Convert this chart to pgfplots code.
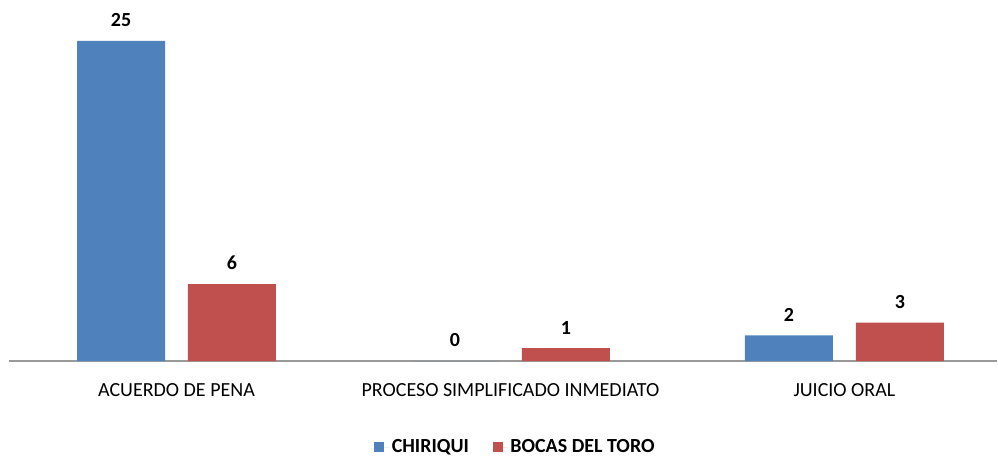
\documentclass[border=0pt]{standalone}
\usepackage{fontspec}
\setmainfont{Carlito}
\usepackage{pgfplots}
\pgfplotsset{compat=1.18}
\definecolor{chiriqui}{HTML}{4F81BD}
\definecolor{bocas}{HTML}{C0504D}

\begin{document}
\begin{tikzpicture}
\begin{axis}[
  at={(0,0)}, anchor=south west,
  scale only axis,
  width=741pt, height=267pt,
  xmin=-0.5015, xmax=2.457, ymin=0, ymax=27.8,
  axis x line*=bottom, axis y line=none,
  x axis line style={draw=gray!80, line width=1pt},
  xtick=data,
  xticklabels={ACUERDO DE PENA, PROCESO SIMPLIFICADO INMEDIATO, JUICIO ORAL},
  xticklabel style={font=\fontsize{15}{17}\selectfont, yshift=-13pt},
  major tick length=0pt,
  ybar, bar width=66pt,
  /pgf/number format/assume math mode=true,
  nodes near coords,
  nodes near coords style={font=\fontsize{15}{17}\selectfont\bfseries, text=black, yshift=7pt},
  legend style={at={(0.513,-0.2416)}, anchor=center, draw=none, fill=none,
    legend columns=2, font=\fontsize{15}{17}\selectfont\bfseries,
    /tikz/every even column/.append style={column sep=16pt}},
  legend image code/.code={\path (0pt,0pt) -- (11pt,0pt);\fill (0pt,-3.75pt) rectangle (7.5pt,3.75pt);},
]
\addplot[draw=none, fill=chiriqui, bar shift=-41.6pt] coordinates {(0,25) (1,0) (2,2)};
\addlegendentry{CHIRIQUI}
\addplot[draw=none, fill=bocas, bar shift=41.6pt] coordinates {(0,6) (1,1) (2,3)};
\addlegendentry{BOCAS DEL TORO}
\end{axis}
\pgfresetboundingbox
\useasboundingbox (-6.75pt,-72pt) rectangle (741.75pt,270.75pt);
\end{tikzpicture}
\end{document}
